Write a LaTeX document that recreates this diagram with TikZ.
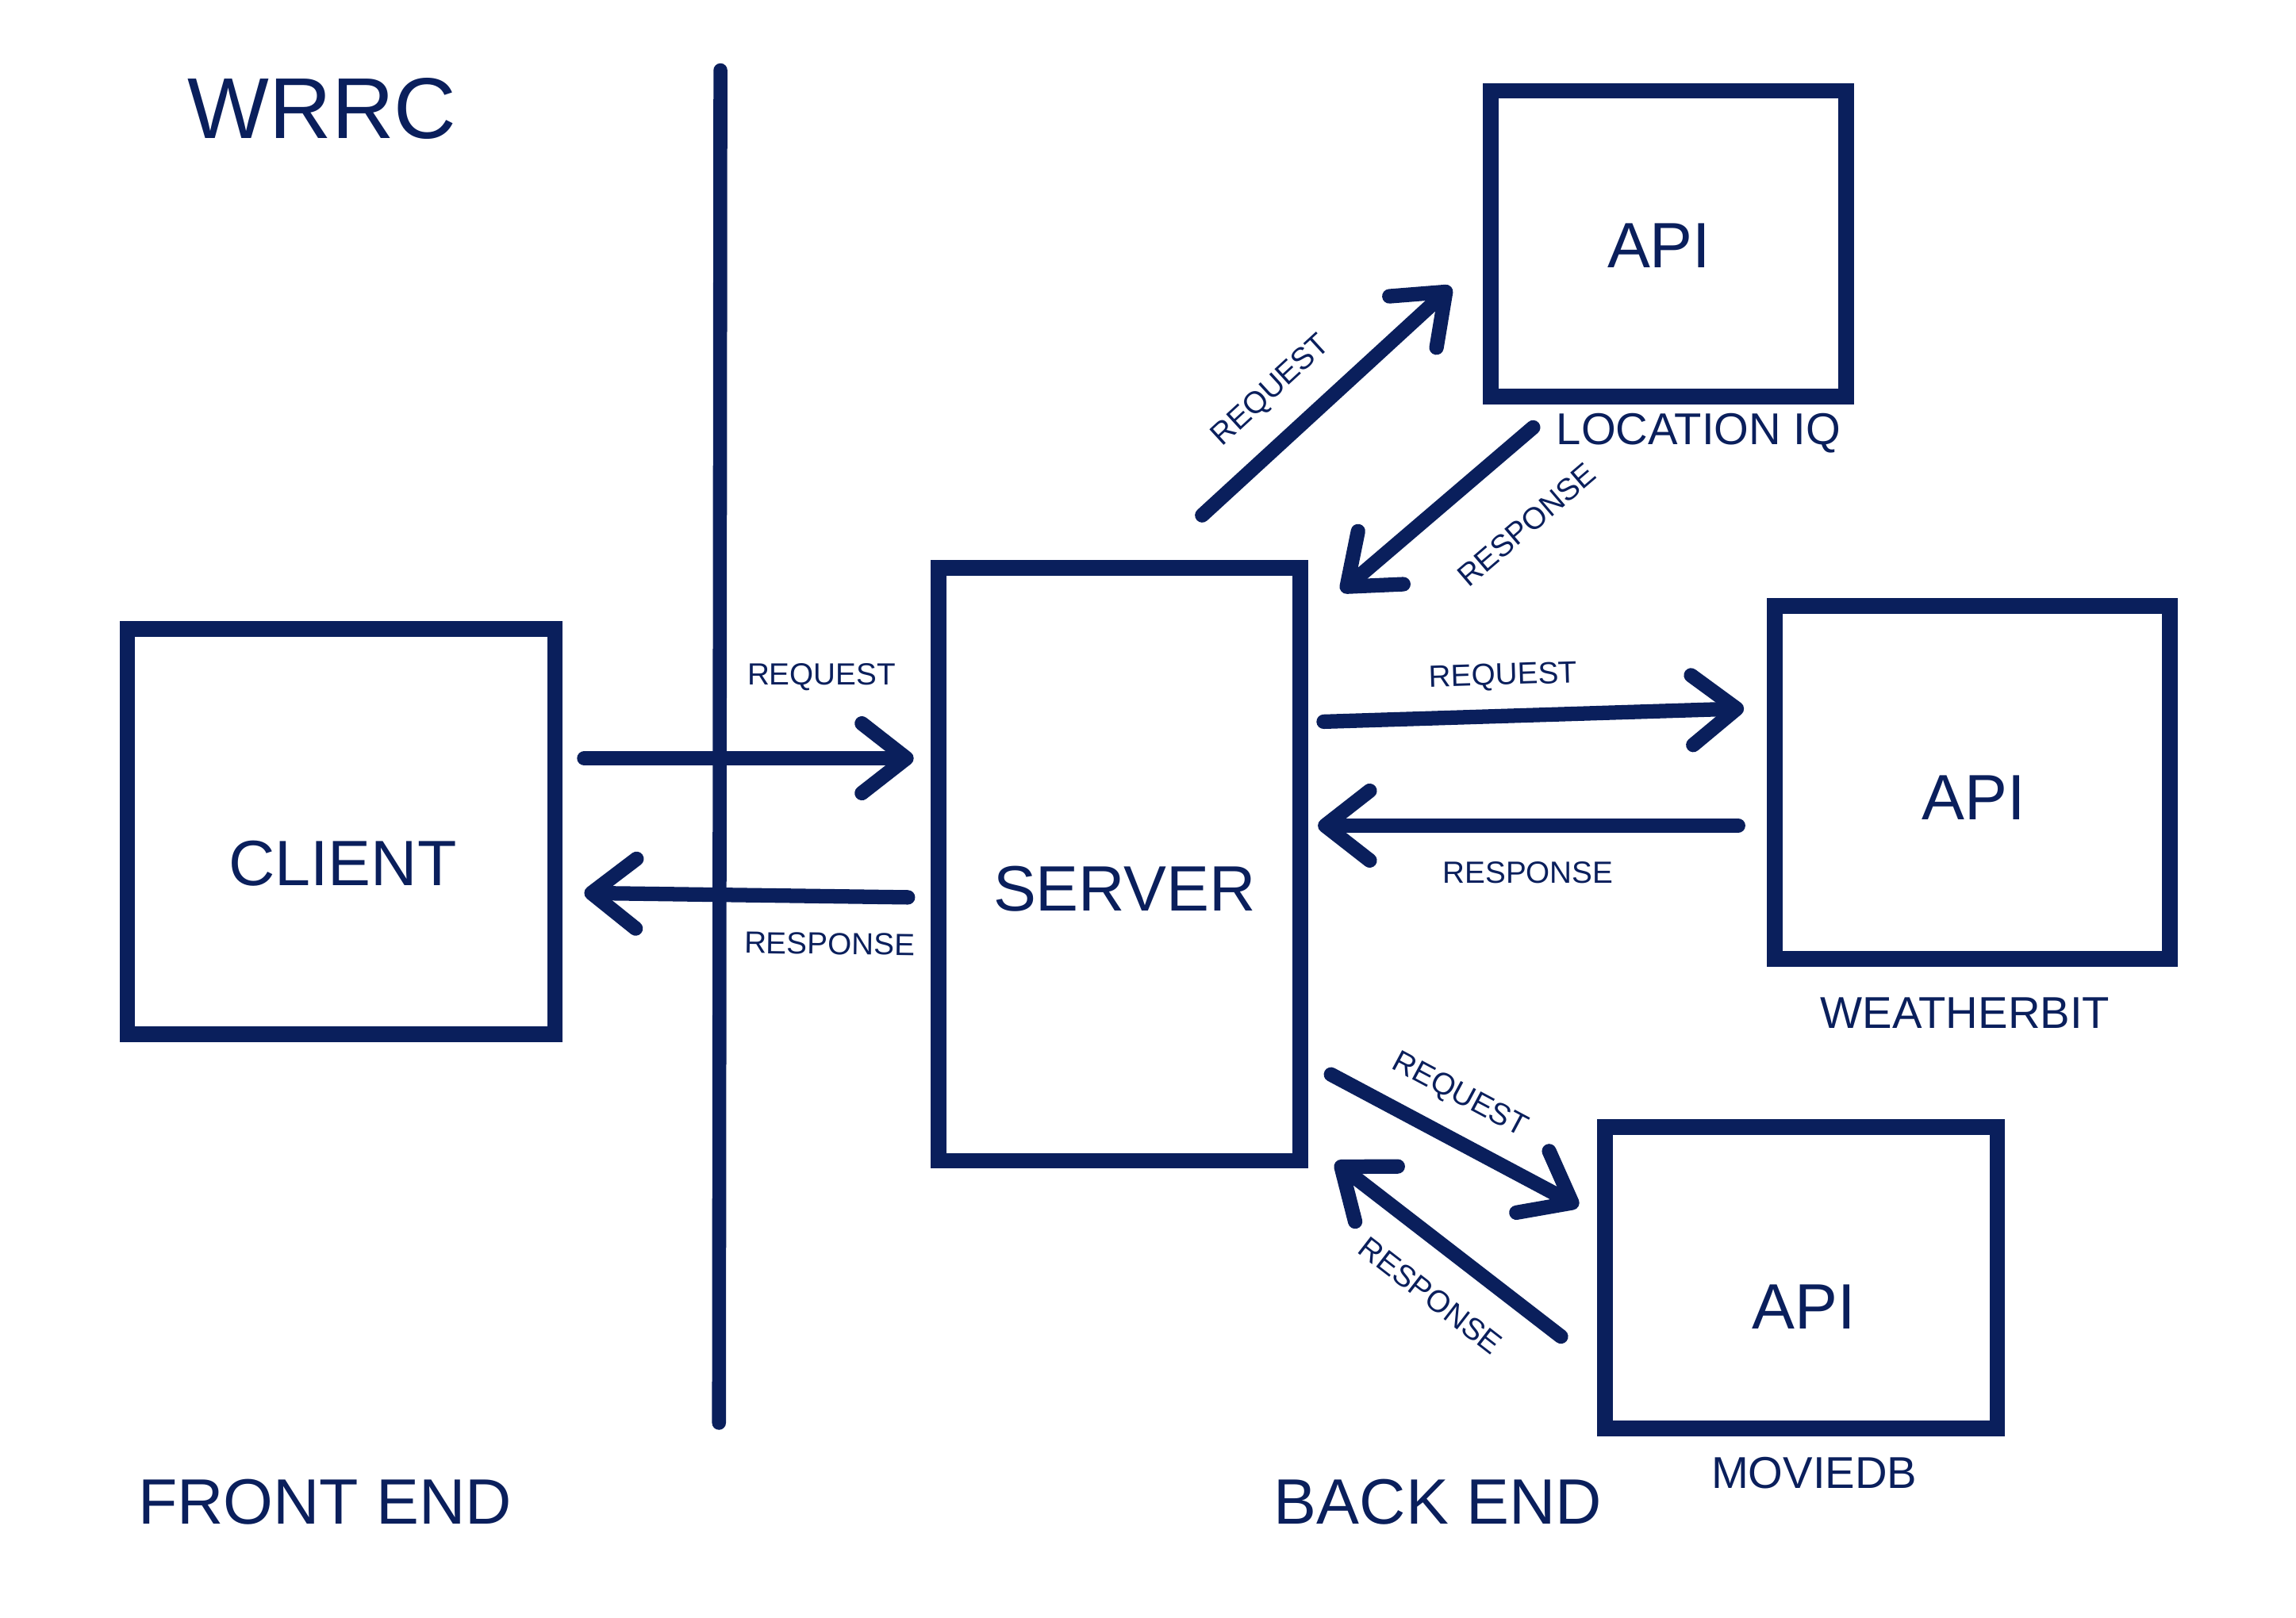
\documentclass[tikz,border=0pt]{standalone}
\usepackage{fontspec}
\setmainfont{Liberation Sans}
\usetikzlibrary{arrows.meta}
\definecolor{navy}{RGB}{10,31,92}

\begin{document}
\begin{tikzpicture}[x=0.018457cm, y=-0.018457cm]

\tikzstyle{box}=[rectangle, draw=navy, line width=5.6pt, inner sep=0pt]
\tikzstyle{bigtext}=[text=navy, font=\fontsize{23}{27}\selectfont]
\tikzstyle{titletext}=[text=navy, font=\fontsize{31}{35}\selectfont]
\tikzstyle{nametext}=[text=navy, font=\fontsize{16}{19}\selectfont]
\tikzstyle{smalltext}=[text=navy, font=\fontsize{11}{13}\selectfont, inner sep=0pt, sloped]
\tikzstyle{arrow}=[draw=navy, line width=5.2pt, line cap=round, -{Straight Barb[length=16pt, width=25pt, line cap=round, line join=round]}]
\tikzstyle{divider}=[draw=navy, line width=5pt, line cap=round]

\useasboundingbox (0,0) rectangle (1568,1105);

% boxes
\node (client) [box, minimum width=5.39cm, minimum height=5.11cm] at (233,568) {};
\node (server) [box, minimum width=4.56cm, minimum height=7.475cm] at (764.5,590.5) {};
\node (locationiq) [box, minimum width=4.485cm, minimum height=3.857cm] at (1139.5,166.5) {};
\node (weatherbit) [box, minimum width=4.983cm, minimum height=4.448cm] at (1347,534.5) {};
\node (moviedb) [box, minimum width=4.946cm, minimum height=3.802cm] at (1230,873) {};

% texts
\node (clientname) [bigtext] at (234,590) {CLIENT};
\node (servername) [bigtext] at (768,607) {SERVER};
\node (locapi) [bigtext] at (1133,168) {API};
\node (weatherapi) [bigtext] at (1348,545) {API};
\node (movieapi) [bigtext] at (1232,893) {API};
\node (locname) [nametext] at (1160,296) {LOCATION IQ};
\node (weathername) [nametext] at (1342,692) {WEATHERBIT};
\node (moviename) [nametext] at (1239,1006) {MOVIEDB};
\node (title) [titletext] at (220,74) {WRRC};
\node (frontend) [bigtext] at (222,1026) {FRONT END};
\node (backend) [bigtext] at (982,1026) {BACK END};

% divider
\coordinate (divtop) at (492,48);
\coordinate (divbot) at (491,972);
\draw [divider] (divtop) -- (divbot);

% arrow ends
\coordinate (reqCa) at (399,518);
\coordinate (reqCb) at (624,518);
\coordinate (resCa) at (620,613);
\coordinate (resCb) at (399,610);
\coordinate (reqLa) at (821,352);
\coordinate (reqLb) at (991,196);
\coordinate (resLa) at (1047,292);
\coordinate (resLb) at (916,404);
\coordinate (reqWa) at (904,493);
\coordinate (reqWb) at (1191,484);
\coordinate (resWa) at (1187,564);
\coordinate (resWb) at (900,564);
\coordinate (reqMa) at (909,734);
\coordinate (reqMb) at (1078,824);
\coordinate (resMa) at (1066,913);
\coordinate (resMb) at (912,794);

\draw [arrow] (reqCa) -- node[smalltext, pos=.72, yshift=29pt] {REQUEST} (reqCb);
\draw [arrow] (resCa) -- node[smalltext, pos=.24, yshift=-17pt] {RESPONSE} (resCb);
\draw [arrow] (reqLa) -- node[smalltext, pos=.40, yshift=16pt] {REQUEST} (reqLb);
\draw [arrow] (resLa) -- node[smalltext, pos=.27, yshift=-25pt] {RESPONSE} (resLb);
\draw [arrow] (reqWa) -- node[smalltext, pos=.43, yshift=14pt] {REQUEST} (reqWb);
\draw [arrow] (resWa) -- node[smalltext, pos=.50, yshift=-17pt] {RESPONSE} (resWb);
\draw [arrow] (reqMa) -- node[smalltext, pos=.44, yshift=15pt] {REQUEST} (reqMb);
\draw [arrow] (resMa) -- node[smalltext, pos=.45, yshift=-17pt] {RESPONSE} (resMb);

\end{tikzpicture}
\end{document}
